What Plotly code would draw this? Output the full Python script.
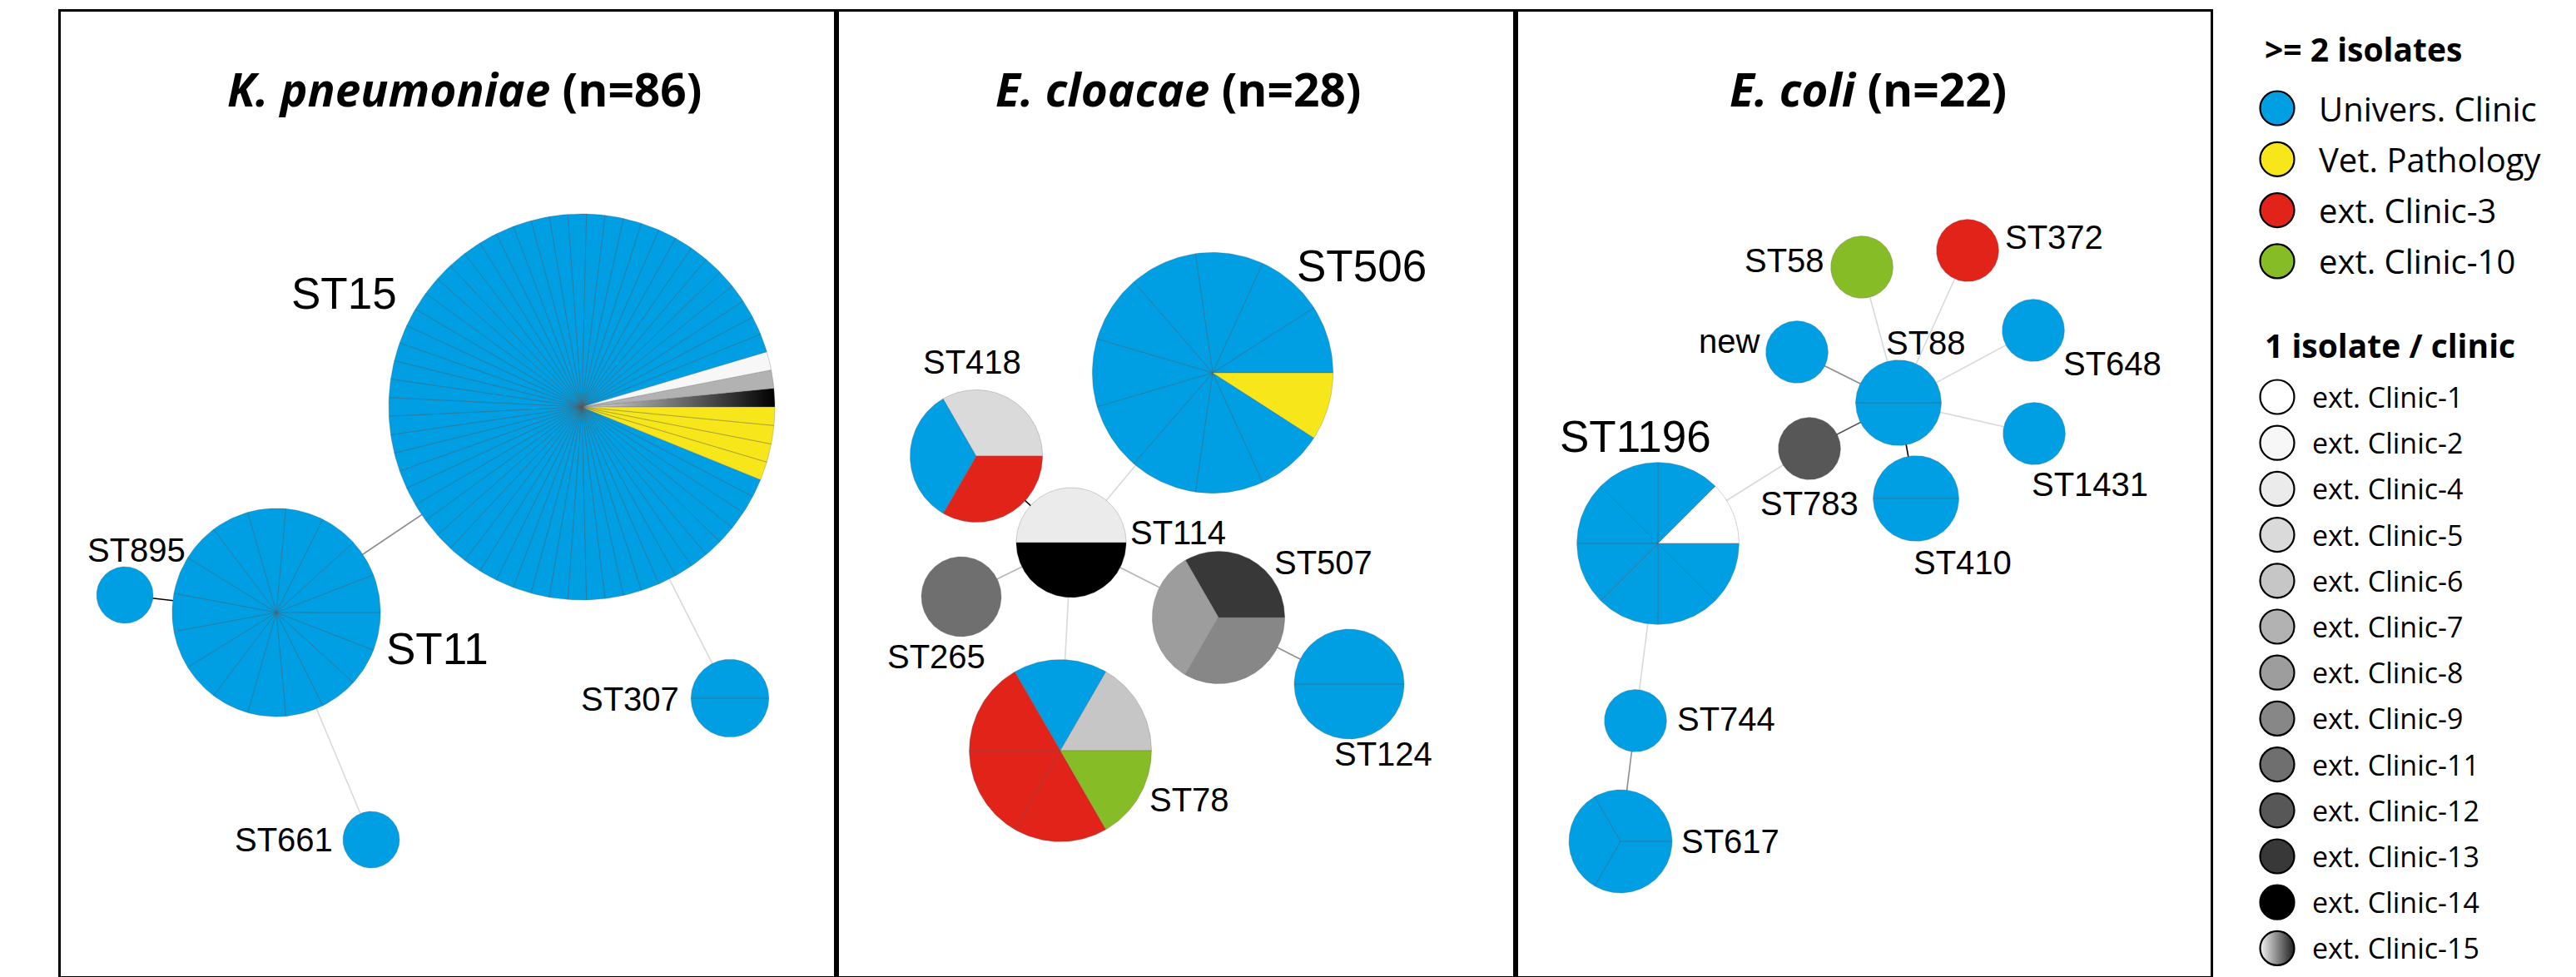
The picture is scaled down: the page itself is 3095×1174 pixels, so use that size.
import math
import plotly.graph_objects as go

# ---------------- data ----------------
species = ["K. pneumoniae", "E. cloacae", "E. coli"]

clinics_multi = ["Univers. Clinic", "Vet. Pathology", "ext. Clinic-3", "ext. Clinic-10"]
clinics_single = ["ext. Clinic-1", "ext. Clinic-2", "ext. Clinic-4", "ext. Clinic-5",
                  "ext. Clinic-6", "ext. Clinic-7", "ext. Clinic-8", "ext. Clinic-9",
                  "ext. Clinic-11", "ext. Clinic-12", "ext. Clinic-13", "ext. Clinic-14",
                  "ext. Clinic-15"]

# K. pneumoniae MST (node layout in panel pixels, isolates per clinic in pie order)
kp_st = ["ST15", "ST11", "ST895", "ST661", "ST307"]
kp_x = [626, 259, 77, 373, 804]
kp_y = [475, 722, 701, 995, 825]
kp_isolates = [
    [("ext. Clinic-15", 1), ("ext. Clinic-7", 1), ("ext. Clinic-2", 1),
     ("Univers. Clinic", 58), ("Vet. Pathology", 4)],
    [("Univers. Clinic", 17)],
    [("Univers. Clinic", 1)],
    [("Univers. Clinic", 1)],
    [("Univers. Clinic", 2)],
]
kp_links = [("ST15", "ST11", 3), ("ST11", "ST895", 1), ("ST11", "ST661", 5), ("ST15", "ST307", 5)]

# E. cloacae MST
ec_st = ["ST506", "ST418", "ST114", "ST265", "ST507", "ST124", "ST78"]
ec_x = [452, 168, 282, 150, 459, 616, 269]
ec_y = [434, 534, 638, 703, 728, 808, 888]
ec_isolates = [
    [("Univers. Clinic", 10), ("Vet. Pathology", 1)],
    [("ext. Clinic-5", 1), ("Univers. Clinic", 1), ("ext. Clinic-3", 1)],
    [("ext. Clinic-4", 1), ("ext. Clinic-14", 1)],
    [("ext. Clinic-11", 1)],
    [("ext. Clinic-13", 1), ("ext. Clinic-8", 1), ("ext. Clinic-9", 1)],
    [("Univers. Clinic", 2)],
    [("ext. Clinic-6", 1), ("Univers. Clinic", 1), ("ext. Clinic-3", 3), ("ext. Clinic-10", 1)],
]
ec_links = [("ST506", "ST114", 5), ("ST418", "ST114", 1), ("ST265", "ST114", 4),
            ("ST114", "ST78", 5), ("ST114", "ST507", 4), ("ST507", "ST124", 3)]

# E. coli MST
co_st = ["ST1196", "ST617", "ST744", "ST783", "ST88", "ST410", "new",
         "ST58", "ST372", "ST648", "ST1431"]
co_x = [171, 126, 144, 353, 460, 481, 338, 416, 543, 622, 623]
co_y = [639, 997, 852, 525, 470, 585, 409, 307, 287, 383, 507]
co_isolates = [
    [("ext. Clinic-1", 1), ("Univers. Clinic", 7)],
    [("Univers. Clinic", 3)],
    [("Univers. Clinic", 1)],
    [("ext. Clinic-12", 1)],
    [("Univers. Clinic", 2)],
    [("Univers. Clinic", 2)],
    [("Univers. Clinic", 1)],
    [("ext. Clinic-10", 1)],
    [("ext. Clinic-3", 1)],
    [("Univers. Clinic", 1)],
    [("Univers. Clinic", 1)],
]
co_links = [("ST1196", "ST783", 5), ("ST783", "ST88", 2), ("new", "ST88", 3),
            ("ST58", "ST88", 5), ("ST372", "ST88", 5), ("ST648", "ST88", 5),
            ("ST1431", "ST88", 5), ("ST410", "ST88", 1), ("ST1196", "ST744", 5),
            ("ST744", "ST617", 3)]

panels = [
    dict(species=species[0], st=kp_st, x=kp_x, y=kp_y, iso=kp_isolates, links=kp_links),
    dict(species=species[1], st=ec_st, x=ec_x, y=ec_y, iso=ec_isolates, links=ec_links),
    dict(species=species[2], st=co_st, x=co_x, y=co_y, iso=co_isolates, links=co_links),
]

# ---------------- style / layout ----------------
W, H = 3095, 1174
panel_px = [(65, 997), (997, 1813), (1813, 2648)]
top_px, bottom_px = 6, 1165
unit_radius = [34, 48, 37.4]   # radius of a 1-isolate node in each panel
size_power = 0.46
title_pos = [(485, 92), (410, 92), (423, 92)]

colors = {
    "Univers. Clinic": "#009fe3", "Vet. Pathology": "#f7e619",
    "ext. Clinic-3": "#e2231a", "ext. Clinic-10": "#86bc25",
    "ext. Clinic-1": "#ffffff", "ext. Clinic-2": "#f7f7f7", "ext. Clinic-4": "#ebebeb",
    "ext. Clinic-5": "#dadada", "ext. Clinic-6": "#c6c6c6", "ext. Clinic-7": "#b2b2b2",
    "ext. Clinic-8": "#9d9d9d", "ext. Clinic-9": "#878787", "ext. Clinic-11": "#6f6f6f",
    "ext. Clinic-12": "#575757", "ext. Clinic-13": "#383838", "ext. Clinic-14": "#000000",
    "ext. Clinic-15": "#808080",
}
link_colors = {1: "#000000", 2: "#555555", 3: "#8c8c8c", 4: "#b4b4b4", 5: "#d9d9d9"}

# label offsets from node centre (px)
label_off = {
    "ST15": (-286, -137), "ST11": (193, 43), "ST895": (14, -54), "ST307": (-120, 1),
    "ST661": (-105, 0),
    "ST506": (179, -129), "ST418": (-5, -113), "ST114": (128, -12), "ST507": (126, -66),
    "ST265": (-30, 72), "ST124": (41, 84), "ST78": (155, 59),
    "ST1196": (-27, -129), "ST744": (109, -2), "ST617": (132, 0), "ST783": (0, 66),
    "ST410": (56, 77), "ST88": (33, -72), "new": (-82, -13), "ST58": (-93, -8),
    "ST372": (104, -16), "ST648": (95, 40), "ST1431": (67, 61),
}
big_labels = {"ST15", "ST11", "ST506", "ST1196"}
label_font = "Liberation Sans"
title_font = "Open Sans"

fig = go.Figure()
annotations = []


def wedge(cx, cy, r, a0, a1):
    steps = max(2, int(abs(a1 - a0) / 1.5) + 1)
    xs, ys = [], []
    full = abs(a1 - a0) >= 359.9
    if not full:
        xs.append(cx)
        ys.append(cy)
    for k in range(steps + 1):
        a = math.radians(a0 + (a1 - a0) * k / steps)
        xs.append(cx + r * math.cos(a))
        ys.append(cy - r * math.sin(a))
    if not full:
        xs.append(cx)
        ys.append(cy)
    return xs, ys


for i, p in enumerate(panels):
    ax = "x" if i == 0 else f"x{i + 1}"
    ay = "y" if i == 0 else f"y{i + 1}"
    pos = {s: (x, y) for s, x, y in zip(p["st"], p["x"], p["y"])}

    # links grouped by distance level
    for lvl in sorted(set(l[2] for l in p["links"])):
        lx, ly = [], []
        for a, b, l in p["links"]:
            if l == lvl:
                lx += [pos[a][0], pos[b][0], None]
                ly += [pos[a][1], pos[b][1], None]
        fig.add_trace(go.Scatter(x=lx, y=ly, mode="lines", xaxis=ax, yaxis=ay,
                                 line=dict(color=link_colors[lvl], width=1.6),
                                 hoverinfo="skip", showlegend=False))

    # pie slices, one per isolate
    slices = {}
    for s, x, y, iso in zip(p["st"], p["x"], p["y"], p["iso"]):
        n = sum(c for _, c in iso)
        r = unit_radius[i] * n ** size_power
        step = 360.0 / n
        a = 0.0
        for clinic, cnt in iso:
            for _ in range(cnt):
                xs, ys = wedge(x, y, r, a, a + step)
                slices.setdefault(clinic, ([], []))
                slices[clinic][0].extend(xs + [None])
                slices[clinic][1].extend(ys + [None])
                a += step
    for clinic, (xs, ys) in slices.items():
        kw = dict(fillcolor=colors[clinic])
        if clinic == "ext. Clinic-15":
            kw = dict(fillgradient=dict(type="horizontal",
                                        colorscale=[[0, "#dcdcdc"], [1, "#000000"]]))
        fig.add_trace(go.Scatter(x=xs, y=ys, mode="lines", fill="toself", xaxis=ax, yaxis=ay,
                                 line=dict(color="rgba(90,90,90,0.4)", width=0.7),
                                 name=clinic, hoverinfo="name", showlegend=False, **kw))

    # ST labels
    for s, x, y in zip(p["st"], p["x"], p["y"]):
        dx, dy = label_off[s]
        annotations.append(dict(x=x + dx, y=y + dy, xref=ax, yref=ay, text=s, showarrow=False,
                                xanchor="center", yanchor="middle",
                                font=dict(family=label_font, size=53 if s in big_labels else 40,
                                          color="black")))

    total = sum(c for iso in p["iso"] for _, c in iso)
    tx, ty = title_pos[i]
    annotations.append(dict(x=tx, y=ty, xref=ax, yref=ay, showarrow=False,
                            text=f"<b><i>{p['species']}</i> (n={total})</b>",
                            xanchor="center", yanchor="middle",
                            font=dict(family=title_font, size=55, color="black")))

# ---------------- legend panel ----------------
leg_x0 = panel_px[2][1] + 1
circ_x = 2728
multi_y = [122 + 61.3 * k for k in range(len(clinics_multi))]
single_y = [469 + 55.2 * k for k in range(len(clinics_single))]

fig.add_trace(go.Scatter(
    x=[circ_x] * (len(clinics_multi) + len(clinics_single) - 1),
    y=multi_y + single_y[:-1], mode="markers", xaxis="x4", yaxis="y4",
    marker=dict(size=41, color=[colors[c] for c in clinics_multi + clinics_single[:-1]],
                line=dict(color="black", width=2.2)),
    hoverinfo="skip", showlegend=False))
fig.add_trace(go.Scatter(
    x=[circ_x], y=[single_y[-1]], mode="markers", xaxis="x4", yaxis="y4",
    marker=dict(size=41, color="#f4f4f4", gradient=dict(type="horizontal", color="#1e1e1e"),
                line=dict(color="black", width=2.2)),
    hoverinfo="skip", showlegend=False))

for text, y in [("<b>>= 2 isolates</b>", 50), ("<b>1 isolate / clinic</b>", 406)]:
    annotations.append(dict(x=2711, y=y, xref="x4", yref="y4", text=text,
                            showarrow=False, xanchor="left", yanchor="middle",
                            font=dict(family=title_font, size=39, weight=800,
                                      color="black")))
for c, y in zip(clinics_multi, multi_y):
    annotations.append(dict(x=2776, y=y, xref="x4", yref="y4", text=c, showarrow=False,
                            xanchor="left", yanchor="middle",
                            font=dict(family=title_font, size=40, color="black")))
for c, y in zip(clinics_single, single_y):
    annotations.append(dict(x=2768, y=y, xref="x4", yref="y4", text=c, showarrow=False,
                            xanchor="left", yanchor="middle",
                            font=dict(family=title_font, size=34, color="black")))

# ---------------- axes ----------------
layout = dict(width=W, height=H, margin=dict(l=0, r=0, t=0, b=0),
              paper_bgcolor="white", plot_bgcolor="white",
              annotations=annotations, showlegend=False)
ydom = [1 - bottom_px / H, 1 - top_px / H]
for i, (x0, x1) in enumerate(panel_px):
    sfx = "" if i == 0 else str(i + 1)
    layout["xaxis" + sfx] = dict(domain=[x0 / W, x1 / W], range=[0, x1 - x0],
                                 showgrid=False, zeroline=False, showticklabels=False,
                                 ticks="", showline=True, mirror=True,
                                 linecolor="black", linewidth=2.5, fixedrange=True,
                                 anchor="y" + sfx)
    layout["yaxis" + sfx] = dict(domain=ydom, range=[bottom_px - top_px, 0],
                                 showgrid=False, zeroline=False, showticklabels=False,
                                 ticks="", showline=True, mirror=True,
                                 linecolor="black", linewidth=2.5, fixedrange=True,
                                 anchor="x" + sfx)
layout["xaxis4"] = dict(domain=[leg_x0 / W, 1], range=[leg_x0, W], visible=False,
                        anchor="y4", fixedrange=True)
layout["yaxis4"] = dict(domain=[0, 1], range=[H, 0], visible=False, anchor="x4",
                        fixedrange=True)
fig.update_layout(**layout)

fig.write_html("out.html")
